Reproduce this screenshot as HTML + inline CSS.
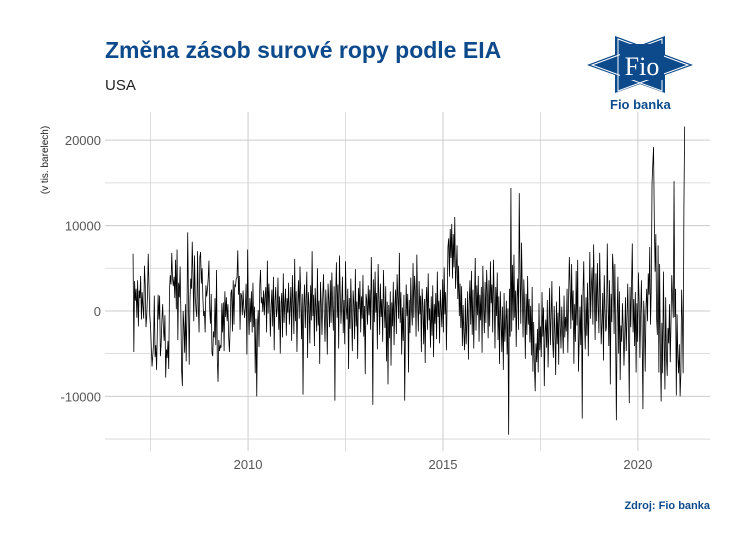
<!DOCTYPE html>
<html><head><meta charset="utf-8"><style>
body{margin:0;background:#fff;font-family:"Liberation Sans",sans-serif}
#wrap{position:relative;width:750px;height:550px;overflow:hidden}
</style></head><body>
<div id="wrap">
<svg id="chart" width="750" height="550" xmlns="http://www.w3.org/2000/svg">
<text x="105" y="58" font-size="23" font-weight="bold" fill="#0d4a8c" font-family="Liberation Sans">Změna zásob surové ropy podle EIA</text>
<text x="105" y="90" font-size="15" fill="#222" font-family="Liberation Sans">USA</text>
<g>
<polygon points="587,65 665,36 665,93" fill="#0d4a8c"/>
<polygon points="693,65 615,36 615,93" fill="#0d4a8c"/>
<polygon points="592,65 662,39 662,91" fill="none" stroke="#fff" stroke-width="1"/>
<polygon points="688,65 618,39 618,91" fill="none" stroke="#fff" stroke-width="1"/>
<rect x="620" y="44" width="44" height="36" fill="#0d4a8c"/>
<text x="642" y="75" font-size="26" fill="#fff" text-anchor="middle" font-family="Liberation Serif">Fio</text>
<text x="610" y="109" font-size="13" font-weight="bold" fill="#0d4a8c" font-family="Liberation Sans">Fio banka</text>
</g>
<g id="grid"></g>
<g id="axes"></g>
<path id="line" fill="none" stroke="#000" stroke-width="0.8"/>
<text transform="translate(48,160) rotate(-90)" font-size="10" fill="#222" text-anchor="middle" font-family="Liberation Sans">(v tis. barelech)</text>
<text x="710" y="509" font-size="11" font-weight="bold" fill="#0d4a8c" text-anchor="end" font-family="Liberation Sans">Zdroj: Fio banka</text>
</svg>
</div>
<script>
const yTicks=[-10000,0,10000,20000];
const yMinor=[-15000,-5000,5000,15000];
const xTicks=[2010,2015,2020];
const xMinor=[2007.5,2012.5,2017.5];
const startYear=2007.05, endYear=2021.2;
// weekly change, thousands of barrels (x1000 below)
const values=[
6.7,-4.8,3.5,1.2,2.6,-0.8,3.6,-1.8,2.4,1.5,4.1,-1.0,2.2,0.5,-0.9,5.3,3.1,-1.9,-0.6,1.8,6.7,2.9,-0.6,-1.8,-4.2,-6.5,-5.2,-3.9,1.8,-5.4,-4.0,-6.9,-2.2,1.9,-1.0,1.8,-5.3,-3.9,-1.1,0.8,-2.0,-3.5,-0.5,-7.8,-4.5,-5.5,-3.5,-6.8,2.4,4.2,3.1,6.8,
3.8,2.9,4.0,1.5,6.0,0.2,7.2,-3.4,3.3,1.6,5.2,-0.3,-7.0,-8.8,0.0,-1.8,-4.9,0.8,-5.9,-0.4,9.2,1.3,-6.3,1.2,3.8,2.6,8.1,4.2,-1.2,6.5,1.6,0.1,-0.7,7.0,0.5,-2.5,6.3,6.9,3.2,5.0,1.5,-0.6,0.0,-2.5,3.0,1.7,2.5,3.8,5.9,0.2,-1.5,2.0,
-4.9,-5.3,-2.4,-3.1,1.5,-4.0,4.8,-5.6,-8.3,-3.4,-4.7,-4.1,-4.3,0.9,-2.5,1.0,-4.7,2.3,-0.7,1.6,-1.2,0.8,-3.1,-4.8,-1.8,2.1,2.5,-2.4,3.6,-1.6,3.1,2.9,3.8,3.9,7.1,1.9,4.1,-2.2,2.1,1.8,-0.5,2.4,0.3,-0.8,0.5,3.2,-5.1,7.2,0.2,-2.8,1.5,-1.3,
2.3,-2.5,3.3,-1.9,0.5,-7.3,-0.9,-10.0,-1.5,0.1,-4.2,3.0,4.8,0.9,1.6,-0.1,2.4,-0.5,1.8,2.8,-2.5,5.9,-0.3,3.2,1.1,-3.0,0.6,2.5,-1.8,4.0,-4.6,1.2,2.8,-0.7,0.3,3.9,-2.2,1.7,-5.0,0.8,2.1,-3.1,4.4,-1.4,0.9,2.6,-2.9,1.5,-0.2,3.3,-1.6,0.4,
2.8,-3.5,4.2,1.0,-2.7,6.1,-1.2,2.3,-4.8,0.7,3.6,-0.9,5.2,1.8,-3.3,2.0,-9.8,0.5,3.1,-2.0,1.4,4.6,-5.5,2.2,0.6,-3.8,3.0,-1.1,7.0,-0.6,1.9,-4.1,2.7,0.3,-2.4,5.0,-1.7,1.2,-6.2,3.4,0.8,-2.8,1.6,4.3,-0.4,-3.6,2.5,0.1,-5.1,3.2,1.3,-1.9,
3.6,-1.4,4.5,0.6,-2.3,2.9,-10.5,1.8,5.7,-0.8,3.1,-4.4,6.5,2.2,-1.5,0.9,4.0,-2.6,1.3,-3.9,5.8,0.4,-1.0,2.6,-6.8,1.5,-2.1,3.8,-0.3,-4.7,2.4,0.8,-3.3,4.9,-1.8,1.1,-5.6,2.7,0.2,3.5,-2.5,1.7,-0.9,4.2,-3.0,0.6,-7.4,2.0,1.2,-1.6,3.0,-0.5,
2.5,-2.2,6.3,0.9,-11.0,3.7,-1.3,4.6,-0.2,2.1,-4.5,5.5,1.6,-2.8,3.2,-0.7,1.4,-3.6,4.8,0.5,-2.0,2.9,-5.9,1.1,-8.6,0.7,-3.2,2.3,-6.4,1.0,-1.8,3.4,-4.0,0.6,2.5,-2.7,4.3,1.5,-0.9,6.8,-1.4,2.2,-5.1,0.4,-3.5,1.9,-10.5,-2.1,3.1,-0.6,2.0,-7.2,
1.3,-2.6,3.9,0.2,-1.7,5.6,-0.8,4.1,2.3,-3.0,6.6,1.0,-2.4,3.5,-0.4,1.8,-4.8,2.6,0.5,-3.9,1.4,-6.1,0.9,2.8,-2.2,4.4,-1.1,0.3,-4.3,1.7,-2.9,3.0,-5.4,0.8,-1.5,2.1,-3.3,4.6,-0.7,1.2,-3.8,2.5,0.1,-1.9,3.7,-2.5,5.1,-0.4,2.2,-4.6,1.6,7.5,
8.5,4.0,9.6,6.2,10.2,3.8,9.0,5.1,11.0,2.6,4.9,7.7,1.4,5.3,-0.6,3.2,-2.0,2.9,-4.1,0.7,-2.7,-4.6,1.5,-3.9,-1.2,2.3,-5.7,0.8,3.6,-1.6,4.7,-2.8,2.5,-4.4,1.1,6.2,-2.3,3.0,-0.5,4.1,-3.6,1.9,-1.1,2.8,-4.9,5.3,0.4,-2.6,3.4,-1.4,4.8,2.0,
-3.2,3.6,-1.8,5.8,0.9,3.1,-2.5,6.0,1.4,-4.4,2.8,-0.6,4.5,-3.4,1.7,-6.2,2.3,-1.0,-4.8,0.5,-6.9,2.1,-3.6,-1.4,1.2,-5.1,0.3,-14.5,2.6,-3.0,14.4,-2.4,5.4,-1.1,6.6,-0.8,2.4,-4.2,1.6,3.8,-2.2,13.8,4.5,-1.5,8.0,2.3,-3.1,3.7,0.7,-5.6,2.0,-2.8,
4.1,-1.6,1.4,-3.7,0.6,-5.2,2.8,-7.1,-1.3,-6.5,-9.4,-3.8,-6.0,-2.1,-7.2,0.9,-4.6,-1.8,-5.4,2.2,-3.0,0.4,-8.8,-2.5,-1.0,-4.3,1.3,-6.6,-2.0,2.7,-4.0,-0.8,3.5,-3.4,-5.5,0.6,-2.7,-7.5,1.1,-3.9,-0.2,-6.3,2.9,-1.6,-4.4,0.5,-2.3,-5.0,1.8,-3.1,-0.7,-2.4,
2.6,-4.9,1.5,6.3,3.0,-2.1,5.5,-1.1,2.4,-6.2,0.8,-3.6,4.7,-1.7,6.0,-7.1,-3.3,0.5,-4.0,1.9,-12.6,2.2,5.8,-1.4,-4.5,1.6,-2.9,3.3,-5.3,0.7,6.9,-0.9,2.8,5.1,-1.6,7.8,2.0,-3.4,4.4,-1.2,5.6,0.8,-2.6,6.8,1.4,-3.9,-1.3,2.1,-5.8,4.2,0.3,-2.4,
-1.8,7.9,1.2,-4.1,3.6,-8.6,2.0,-1.3,6.7,4.8,-2.7,5.5,-3.2,-12.8,-0.6,4.0,-5.0,2.3,-8.1,-1.7,-3.6,0.9,-2.0,-6.4,-3.1,1.6,-4.7,-0.8,3.2,-2.5,-10.8,2.8,-1.9,3.1,7.9,-2.5,1.4,-4.1,2.2,-7.2,0.9,-3.6,4.5,1.1,-5.5,-0.4,3.6,-3.0,-11.5,1.2,-1.0,-7.1,
0.3,2.6,-1.2,4.4,1.9,7.5,-1.6,2.8,15.0,17.2,19.2,10.5,4.6,9.0,-0.8,-2.8,7.7,-7.2,5.5,-4.9,-10.6,-1.4,-7.3,4.6,-3.2,-9.2,1.6,-5.4,-7.6,-2.0,-3.8,0.8,-6.0,-1.3,4.2,1.6,-0.8,15.2,-0.7,2.6,-9.9,-0.4,-5.4,-7.3,-3.9,-10.0,-7.3,2.5,-0.9,-7.3,12.0,21.6
];
const X0=105,X1=710,Y0=112,Y1=451;
const xMin=2006.33,xMax=2021.85,yMin=-16400,yMax=23300;
const xs=v=>X0+(v-xMin)/(xMax-xMin)*(X1-X0);
const ys=v=>Y1-(v-yMin)/(yMax-yMin)*(Y1-Y0);
const NS="http://www.w3.org/2000/svg";
const grid=document.getElementById('grid'),axes=document.getElementById('axes');
function mk(tag,attrs,parent){const e=document.createElementNS(NS,tag);for(const k in attrs)e.setAttribute(k,attrs[k]);parent.appendChild(e);return e;}
yMinor.forEach(v=>{const l=mk('line',{x1:X0,x2:X1,y1:ys(v),y2:ys(v),stroke:'#d4d4d4','stroke-width':0.8},grid);

});
xMinor.forEach(v=>{const l=mk('line',{x1:xs(v),x2:xs(v),y1:Y0,y2:Y1,stroke:'#d4d4d4','stroke-width':0.8},grid);

});
yTicks.forEach(v=>{const l=mk('line',{x1:X0,x2:X1,y1:ys(v),y2:ys(v),stroke:'#cccccc','stroke-width':1},grid);


const t=mk('text',{x:X0-4,y:ys(v)+5,'text-anchor':'end','font-size':13,fill:'#555','font-family':'Liberation Sans'},axes);
t.textContent=v;

});
xTicks.forEach(v=>{const l=mk('line',{x1:xs(v),x2:xs(v),y1:Y0,y2:Y1,stroke:'#cccccc','stroke-width':1},grid);


const t=mk('text',{x:xs(v),y:Y1+18,'text-anchor':'middle','font-size':13,fill:'#555','font-family':'Liberation Sans'},axes);
t.textContent=v;

});
const n=values.length;
let d='';
values.forEach((v,i)=>{const yr=startYear+i*(endYear-startYear)/(n-1);d+=(i?'L':'M')+xs(yr).toFixed(2)+','+ys(v*1000).toFixed(2);});
document.getElementById('line').setAttribute('d',d);
</script>
</body></html>
